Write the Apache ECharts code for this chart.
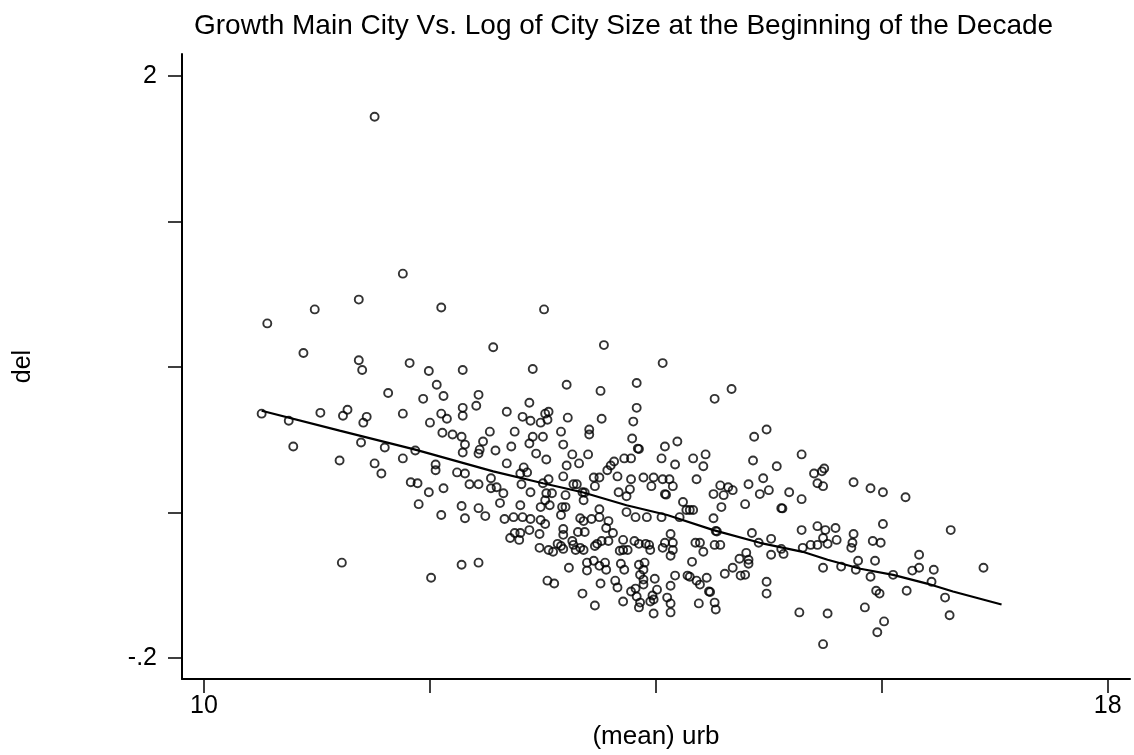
<!DOCTYPE html>
<html>
<head>
<meta charset="utf-8">
<title>Growth Main City Vs. Log of City Size</title>
<script src="https://cdn.jsdelivr.net/npm/echarts@6/dist/echarts.min.js"></script>
<style>
  html, body { margin: 0; padding: 0; background: #fff; }
  #chart { width: 1134px; height: 755px; }
</style>
</head>
<body>
<div id="chart"></div>
<script>
// observations: [urb, del]
const cities = [
  [11.51,1.846],[11.76,1.253],[11.37,1.155],[10.98,1.118],[10.56,1.065],[10.88,0.953],[12.10,1.125],[13.01,1.118],
  [12.56,0.975],[13.54,0.983],[14.06,0.915],[11.37,0.926],[11.40,0.889],[11.82,0.915],[11.99,0.885],[12.29,0.889],[12.91,0.893],

  [10.51,0.724],[10.75,0.697],[10.79,0.600],[11.03,0.727],[11.23,0.716],[11.27,0.739],[11.44,0.712],[11.41,0.690],
  [11.63,0.802],[11.76,0.724],[11.94,0.780],[12.06,0.833],[12.12,0.791],[12.43,0.795],[12.41,0.754],[12.29,0.746],
  [12.29,0.716],[12.10,0.724],[12.15,0.705],[12.00,0.690],[12.11,0.652],[12.20,0.645],[12.28,0.637],[12.53,0.656],
  [12.47,0.619],[12.31,0.607],[12.29,0.577],[12.44,0.588],[12.43,0.573],[12.58,0.585],[11.39,0.615],[11.60,0.596],
  [11.87,0.585],[11.76,0.555],[11.20,0.547],[11.51,0.536],[11.57,0.498],[12.05,0.532],[12.05,0.510],[12.24,0.502],
  [12.31,0.498],[12.54,0.480],[11.83,0.465],[11.89,0.461],[11.99,0.427],[12.12,0.442],[12.35,0.457],[12.43,0.457],
  [12.54,0.442],[12.59,0.446],[12.65,0.423],[12.62,0.386],[11.90,0.382],[12.28,0.375],[12.43,0.367],[12.10,0.341],
  [12.31,0.329],[12.49,0.337],[11.22,0.161],[12.28,0.153],[12.43,0.161],[12.01,0.104],

  [13.21,0.833],[13.51,0.810],[13.83,0.840],[12.88,0.765],[12.68,0.731],[12.82,0.712],[12.89,0.697],[13.02,0.724],
  [13.05,0.731],[13.04,0.701],[12.98,0.690],[13.22,0.709],[13.52,0.705],[13.83,0.746],[13.80,0.694],[14.52,0.780],
  [14.67,0.817],[12.75,0.656],[12.91,0.637],[13.00,0.637],[13.16,0.656],[13.41,0.664],[13.41,0.645],[13.79,0.630],
  [13.84,0.592],[13.85,0.590],[14.08,0.600],[14.19,0.619],[14.87,0.637],[12.72,0.600],[12.88,0.611],[13.18,0.607],
  [12.94,0.573],[13.03,0.551],[13.26,0.570],[13.40,0.570],[13.32,0.536],[13.21,0.528],[12.68,0.536],[12.83,0.521],
  [12.80,0.498],[12.86,0.502],[13.63,0.543],[13.60,0.528],[13.57,0.510],[13.72,0.555],[13.78,0.555],[14.05,0.555],
  [14.17,0.532],[14.33,0.555],[14.44,0.570],[14.42,0.525],[14.86,0.547],[13.18,0.487],[13.45,0.483],[13.50,0.483],
  [13.66,0.487],[13.78,0.476],[13.89,0.483],[13.98,0.483],[14.06,0.476],[14.12,0.476],[14.36,0.476],[12.81,0.457],
  [13.00,0.461],[13.05,0.476],[13.27,0.457],[13.30,0.457],[13.46,0.450],[13.77,0.438],[13.96,0.450],[14.15,0.450],
  [14.08,0.420],[14.09,0.418],[12.89,0.427],[13.03,0.423],[13.08,0.423],[13.20,0.416],[13.35,0.427],[13.37,0.426],
  [13.67,0.427],[13.74,0.412],[14.57,0.453],[14.64,0.446],[14.68,0.435],[14.51,0.420],[14.60,0.416],[14.82,0.457],
  [14.92,0.420],[12.80,0.378],[13.02,0.397],[12.98,0.371],[13.06,0.378],[13.17,0.371],[13.20,0.371],[13.36,0.397],
  [13.50,0.363],[13.74,0.352],[14.24,0.390],[14.27,0.360],[14.30,0.360],[14.33,0.360],[14.58,0.371],[14.79,0.382],

  [12.66,0.326],[12.74,0.333],[12.82,0.333],[12.89,0.326],[12.98,0.322],[13.02,0.307],[13.16,0.341],[13.33,0.329],
  [13.36,0.318],[13.43,0.326],[13.50,0.333],[13.58,0.318],[13.82,0.333],[13.92,0.333],[14.05,0.333],[14.21,0.333],[14.51,0.329],

  [13.18,0.288],[13.18,0.266],[12.88,0.284],[12.75,0.273],[12.80,0.273],[12.97,0.269],[12.71,0.254],[12.79,0.247],
  [13.31,0.277],[13.37,0.277],[13.62,0.273],[13.56,0.292],[14.13,0.269],[14.53,0.281],[14.54,0.279],[14.85,0.273],
  [13.26,0.243],[13.13,0.232],[13.16,0.224],[13.18,0.213],[13.27,0.228],[12.97,0.217],[13.05,0.209],[13.09,0.202],
  [13.29,0.209],[13.36,0.209],[13.33,0.217],[13.46,0.224],[13.48,0.232],[13.52,0.243],[13.58,0.243],[13.71,0.247],
  [13.81,0.243],[13.85,0.232],[13.91,0.232],[13.94,0.228],[13.95,0.209],[14.08,0.236],[14.06,0.217],[14.15,0.236],
  [14.15,0.209],[13.68,0.206],[13.71,0.209],[13.75,0.209],[14.35,0.236],[14.39,0.236],[14.52,0.228],[14.57,0.228],
  [14.42,0.202],[14.13,0.187],[14.80,0.198],[14.82,0.172],[14.82,0.157],[14.74,0.176],[14.91,0.236],[14.32,0.164],
  [13.23,0.142],[13.39,0.161],[13.39,0.131],[13.45,0.168],[13.50,0.149],[13.55,0.161],[13.56,0.134],[13.69,0.157],
  [13.72,0.134],[13.85,0.153],[13.90,0.161],[13.89,0.134],[14.68,0.142],[14.61,0.119],[14.75,0.112],[14.79,0.115],
  [13.04,0.093],[13.10,0.082],[13.51,0.082],[13.64,0.093],[13.66,0.067],[13.86,0.115],[13.89,0.097],[13.89,0.078],
  [13.99,0.100],[14.17,0.112],[14.28,0.112],[14.30,0.108],[14.36,0.093],[14.39,0.078],[14.45,0.104],[14.47,0.052],
  [14.48,0.050],[14.13,0.074],[14.01,0.059],[13.78,0.052],[13.82,0.063],[13.83,0.033],[13.97,0.037],[13.95,0.014],
  [13.98,0.022],[14.10,0.029],[14.13,0.007],[14.13,-0.027],[13.35,0.044],[13.71,0.014],[13.46,-0.001],[13.86,0.010],
  [13.85,-0.008],[13.98,-0.031],[14.38,0.007],[14.52,0.010],[14.53,-0.016],

  [14.98,0.664],[15.29,0.570],[15.07,0.525],[15.49,0.517],[15.47,0.506],[15.40,0.498],[14.95,0.480],[15.43,0.461],
  [15.48,0.450],[15.75,0.465],[15.90,0.442],[16.01,0.427],[16.21,0.408],[15.00,0.435],[15.18,0.427],[15.29,0.401],
  [15.11,0.367],[15.12,0.366],[16.01,0.307],[16.61,0.284],[15.29,0.284],[15.43,0.299],[15.50,0.284],[15.59,0.292],
  [15.75,0.269],[15.48,0.254],[15.52,0.232],[15.60,0.247],[15.02,0.251],[15.11,0.213],[15.13,0.194],[15.02,0.191],
  [15.30,0.217],[15.37,0.228],[15.43,0.228],[15.74,0.236],[15.73,0.217],[15.92,0.243],[15.99,0.236],[16.33,0.191],
  [15.79,0.168],[15.77,0.134],[15.94,0.168],[15.48,0.142],[15.64,0.146],[16.27,0.131],[16.33,0.142],[16.46,0.134],
  [16.90,0.142],[15.90,0.108],[16.10,0.115],[14.98,0.089],[16.44,0.089],[14.98,0.044],[15.95,0.055],[15.98,0.044],
  [16.22,0.055],[16.56,0.029],[15.27,-0.027],[15.52,-0.031],[15.85,-0.008],[16.60,-0.038],[16.02,-0.061],[15.96,-0.102],
  [15.48,-0.147]
];

// fitted line
const fitted = [
  [10.51,0.735],[11.20,0.660],[11.87,0.588],[12.56,0.506],[13.00,0.461],[13.35,0.427],[13.74,0.378],[14.10,0.341],
  [14.51,0.284],[14.92,0.236],[15.30,0.202],[15.52,0.172],[15.81,0.138],[16.10,0.115],[16.40,0.082],[16.63,0.052],[17.06,0.003]
];

const xTicks = [10, 12, 14, 16, 18];
const xLabels = [10, 18];
const yTicks = [-0.2, 0.35, 0.9, 1.45, 2];
const yLabels = [-0.2, 2];

const font = 'Liberation Sans, Arial, sans-serif';
const chart = echarts.init(document.getElementById('chart'), null, { renderer: 'canvas' });

chart.setOption({
  animation: false,
  backgroundColor: '#fff',
  title: {
    text: 'Growth Main City Vs. Log of City Size at the Beginning of the Decade',
    left: 189,
    top: 7,
    textStyle: { fontFamily: font, fontSize: 28, fontWeight: 'normal', color: '#000' }
  },
  grid: { left: 182, right: 4, top: 54, bottom: 72 },
  xAxis: {
    type: 'value',
    min: 9.805,
    max: 18.197,
    name: '(mean) urb',
    nameLocation: 'middle',
    nameGap: 37,
    nameTextStyle: { fontFamily: font, fontSize: 26, color: '#000' },
    axisLine: { show: true, onZero: false, lineStyle: { color: '#000', width: 2 } },
    axisTick: { show: true, customValues: xTicks, length: 14, lineStyle: { color: '#000', width: 1.5 } },
    axisLabel: {
      customValues: xLabels, margin: 15,
      fontFamily: font, fontSize: 25, color: '#000'
    },
    splitLine: { show: false }
  },
  yAxis: {
    type: 'value',
    min: -0.279,
    max: 2.083,
    name: 'del',
    nameLocation: 'middle',
    nameGap: 146,
    nameTextStyle: { fontFamily: font, fontSize: 25, color: '#000' },
    axisLine: { show: true, onZero: false, lineStyle: { color: '#000', width: 2 } },
    axisTick: { show: true, customValues: yTicks, length: 14, lineStyle: { color: '#000', width: 1.5 } },
    axisLabel: {
      customValues: yLabels, margin: 25,
      fontFamily: font, fontSize: 25, color: '#000',
      formatter: v => String(v).replace('0.', '.')
    },
    splitLine: { show: false }
  },
  series: [
    {
      type: 'scatter',
      data: cities,
      symbol: 'circle',
      symbolSize: 8,
      itemStyle: { color: 'rgba(0,0,0,0)', borderColor: '#000', borderWidth: 1.9 },
      silent: true
    },
    {
      type: 'line',
      data: fitted,
      showSymbol: false,
      lineStyle: { color: '#000', width: 2.2 },
      silent: true
    }
  ]
});
</script>
</body>
</html>
